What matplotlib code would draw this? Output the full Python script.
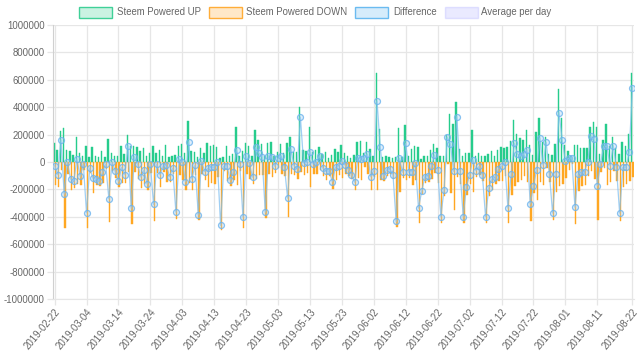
import numpy as np
import matplotlib
matplotlib.use("Agg")
import matplotlib.pyplot as plt
from matplotlib.patches import Rectangle
from matplotlib.ticker import FuncFormatter

plt.rcParams['font.family'] = ['Liberation Sans', 'DejaVu Sans']

start_date = "2019-02-22"
n_days = 182

tick_positions = [0, 10, 20, 30, 40, 50, 60, 70, 80, 90, 100, 110, 120, 130, 140, 150, 160, 170, 181]
tick_labels = ['2019-02-22', '2019-03-04', '2019-03-14', '2019-03-24', '2019-04-03', '2019-04-13',
               '2019-04-23', '2019-05-03', '2019-05-13', '2019-05-23', '2019-06-02', '2019-06-12',
               '2019-06-22', '2019-07-02', '2019-07-12', '2019-07-22', '2019-08-01', '2019-08-11',
               '2019-08-22']

# values in thousands
powered_up = [138, 90, 223, 247, 90, 78, 51, 184, 63, 46,
              114, 39, 107, 46, 39, 80, 39, 167, 63, 46,
              46, 114, 58, 194, 119, 114, 107, 78, 99, 46,
              63, 119, 63, 90, 46, 124, 39, 46, 50, 119,
              131, 63, 300, 78, 70, 39, 99, 63, 136, 114,
              124, 107, 30, 34, 114, 46, 58, 259, 46, 82,
              136, 114, 46, 233, 160, 131, 46, 136, 143, 46,
              75, 130, 63, 136, 179, 70, 70, 398, 90, 82,
              259, 70, 90, 107, 58, 70, 32, 53, 95, 70,
              124, 63, 46, 29, 53, 148, 155, 63, 143, 95,
              46, 647, 240, 34, 46, 39, 29, 39, 245, 39,
              269, 41, 95, 119, 107, 22, 46, 46, 90, 131,
              99, 46, 46, 196, 354, 281, 439, 95, 46, 63,
              65, 233, 46, 63, 46, 46, 58, 82, 46, 90,
              107, 99, 107, 155, 308, 204, 175, 160, 233, 124,
              51, 216, 318, 143, 184, 58, 53, 131, 536, 320,
              124, 82, 46, 124, 124, 99, 99, 99, 252, 293,
              252, 58, 160, 281, 119, 184, 99, 58, 143, 120,
              208, 650]

powered_down = [-165, -182, -61, -480, -90, -202, -191, -162, -167, -61,
                -485, -83, -226, -170, -177, -155, -54, -436, -63, -114,
                -186, -153, -150, -75, -456, -75, -124, -187, -157, -208,
                -78, -429, -78, -182, -76, -143, -146, -90, -416, -97,
                -131, -206, -152, -202, -92, -424, -89, -133, -182, -153,
                -163, -107, -493, -66, -141, -177, -133, -169, -63, -482,
                -90, -124, -157, -126, -97, -92, -412, -90, -109, -78,
                -46, -84, -102, -400, -84, -97, -121, -71, -97, -82,
                -184, -85, -90, -61, -102, -135, -100, -196, -134, -97,
                -114, -85, -102, -121, -201, -119, -133, -36, -85, -202,
                -109, -201, -133, -138, -104, -90, -121, -473, -218, -114,
                -133, -116, -165, -129, -444, -235, -153, -145, -122, -80,
                -155, -444, -247, -15, -223, -349, -107, -163, -444, -242,
                -160, -216, -109, -95, -141, -444, -249, -206, -157, -141,
                -139, -99, -444, -242, -172, -146, -129, -102, -143, -429,
                -228, -274, -143, -165, -41, -145, -426, -218, -175, -160,
                -114, -55, -15, -454, -211, -174, -169, -99, -65, -126,
                -424, -73, -46, -167, -146, -65, -138, -431, -182, -159,
                -138, -107]

difference = [-27, -92, 162, -233, 0, -124, -140, 22, -104, -15,
              -371, -44, -119, -124, -138, -75, -15, -269, 0, -68,
              -140, -39, -92, 119, -337, 39, -17, -109, -58, -162,
              -15, -310, -15, -92, -30, -19, -107, -44, -366, 22,
              0, -143, 148, -124, -22, -385, 10, -70, -46, -39,
              -39, 0, -463, -32, -27, -131, -75, 90, -17, -400,
              46, -10, -111, 107, 63, 39, -366, 46, 34, -32,
              29, 46, -39, -264, 95, -27, -51, 327, -7, 0,
              75, -15, 0, 46, -44, -65, -68, -143, -39, -27,
              10, -22, -56, -92, -148, 29, 22, 27, 58, -107,
              -63, 446, 107, -104, -58, -51, -92, -434, 27, -75,
              136, -75, -70, -10, -337, -213, -107, -99, -32, 51,
              -56, -398, -201, 181, 131, -68, 332, -68, -398, -179,
              -95, 17, -63, -32, -95, -398, -191, -124, -111, -51,
              -32, 0, -337, -87, 136, 58, 46, 58, 90, -305,
              -177, -58, 175, -22, 143, -87, -373, -87, 361, 160,
              10, 27, 31, -330, -87, -75, -70, 0, 187, 167,
              -172, -15, 114, 114, -27, 119, -39, -373, -39, -39,
              70, 543]

legend_labels = ['Steem Powered UP', 'Steem Powered DOWN', 'Difference', 'Average per day']

W, H = 640, 361
fig = plt.figure(figsize=(W / 100, H / 100), dpi=100)
L, R, T, B = 53, 634, 25, 299
ax = fig.add_axes([L / W, 1 - B / H, (R - L) / W, (B - T) / H])

x = np.arange(n_days)
up = np.array(powered_up) * 1000
down = np.array(powered_down) * 1000
diff = np.array(difference) * 1000

green = '#26cc8c'
orange = '#ffa722'
ax.bar(x - 0.22, up, width=0.44, color=green, edgecolor=green, linewidth=0.3, zorder=2)
ax.bar(x + 0.22, down, width=0.44, color=orange, edgecolor=orange, linewidth=0.3, zorder=2)
ax.plot(x, diff, color=(0.50, 0.75, 0.94, 0.75), lw=0.9, zorder=3,
        marker='o', ms=4.3, mfc=(0.65, 0.82, 0.96, 0.35), mec=(0.42, 0.70, 0.93, 0.8), mew=0.9)

ax.set_xlim(-0.5, n_days - 0.5)
ax.set_ylim(-1000000, 1000000)
ax.set_yticks(np.arange(-1000000, 1000001, 200000))
ax.yaxis.set_major_formatter(FuncFormatter(lambda v, p: f"{int(round(v))}"))
ax.set_xticks(tick_positions)
ax.set_xticklabels(tick_labels, rotation=50, ha='right', rotation_mode='anchor')

gridc = '#e6e6e6'
ax.grid(True, color=gridc, lw=0.9, zorder=0)
ax.set_axisbelow(True)
for s in ['top', 'right']:
    ax.spines[s].set_visible(False)
ax.spines['left'].set_color('#d0d0d0')
ax.spines['bottom'].set_color(gridc)
ax.tick_params(axis='both', colors=gridc, labelcolor='#666666', labelsize=6.9, length=4, width=0.9)
ax.tick_params(axis='y', pad=2)
ax.tick_params(axis='x', pad=2)

# legend
legend_items = [
    (79, 117, (0.18, 0.80, 0.56, 0.25), (0.18, 0.80, 0.56, 0.9)),
    (209, 246, (1.0, 0.65, 0.15, 0.25), (1.0, 0.65, 0.15, 0.9)),
    (355, 393, (0.21, 0.64, 0.92, 0.2), (0.21, 0.64, 0.92, 0.7)),
    (445, 481, (0.60, 0.60, 1.0, 0.2), (0.60, 0.60, 1.0, 0.25)),
]
for (bx, tx, fc, ec), lab in zip(legend_items, legend_labels):
    fig.patches.append(Rectangle((bx / W, 1 - 17.5 / H), 33 / W, 10.5 / H,
                                 transform=fig.transFigure, facecolor=fc, edgecolor=ec, lw=1.0))
    fig.text(tx / W, 1 - 12.3 / H, lab, fontsize=6.9, color='#666666', va='center', ha='left')

fig.savefig('out.png', dpi=100)
